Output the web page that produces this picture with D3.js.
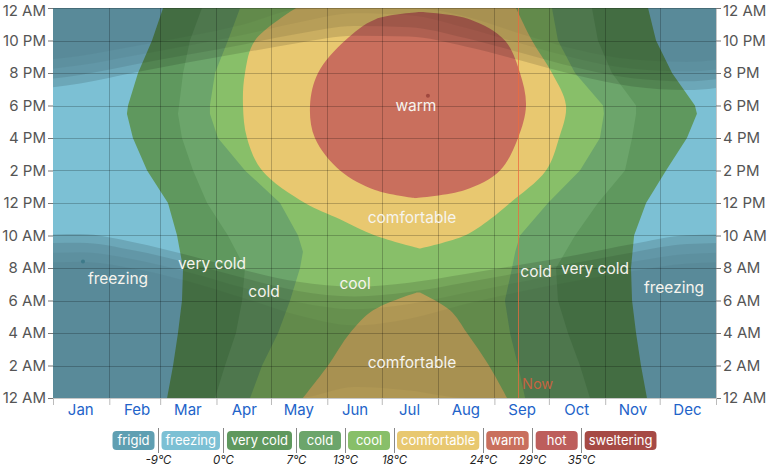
<!DOCTYPE html>
<html>
<head>
<meta charset="utf-8">
<script src="https://cdn.jsdelivr.net/npm/d3@7"></script>
<style>
  body { margin: 0; background: #fff; font-family: Inter, "Helvetica Neue", Arial, sans-serif; }
</style>
</head>
<body>
<svg id="chart" width="769" height="466"></svg>
<script>
const monthNames = ['Jan','Feb','Mar','Apr','May','Jun','Jul','Aug','Sep','Oct','Nov','Dec'];
const bandNames = ['frigid','freezing','very cold','cold','cool','comfortable','warm','hot','sweltering'];
const bandColors = ['#5f9fb2','#7cc0d4','#5f985e','#6ca56b','#88bf69','#e8c870','#c96f5d','#bd5e5c','#a64a45'];
const bandLimits = ['-9°C','0°C','7°C','13°C','18°C','24°C','29°C','35°C'];

// isotherm crossings: [hour, first day of year at/above, last day of year at/above]
const above0 = [[0,62.8,327.0],[2,66.1,323.7],[4,68.8,321.0],[6,71.0,318.8],[8,71.6,318.2],[10,68.3,319.9],
  [12,63.3,326.5],[14,51.8,337.5],[16,44.0,349.0],[17.5,40.7,354.5],[18,41.3,353.4],[20,46.8,340.8],[22,54.5,332.0],[24,60.6,327.6]];
const above7 = [[0,89.2,295.6],[2,94.7,290.1],[4,100.7,283.5],[6,104.1,278.0],[8,105.7,276.9],[10,96.3,287.4],
  [12,84.8,300.0],[14,77.1,314.9],[16,71.0,318.8],[17.5,68.8,321.0],[18,69.4,321.0],[20,71.6,307.7],[22,75.4,300.0],[24,82.0,296.7]];
const above13 = [[0,108.5,259.9],[2,115.1,256.0],[4,123.9,251.6],[6,130.5,248.8],[8,136.0,252.7],[9,137.6,254.5],[10,134.9,257.1],
  [12,125.0,272.5],[14,105.7,290.1],[16,90.8,301.1],[17.5,86.4,303.3],[18,86.4,302.8],[20,89.2,287.4],[22,96.3,278.0],[24,103.0,274.7]];
const above18Night = [[0,137.6,250.0],[2,151.4,240.0],[4,163.5,227.9],[5.4,176.2,218.6],[6.5,200.4,202.0]];
const above18Day = [[9.2,202.0,202.0],[10,177.3,226.8],[11,158.0,240.6],[12,138.7,251.6],[14,115.1,271.4],[16,106.8,278.6],
  [18,104.6,282.4],[20,105.7,274.7],[22,111.2,263.7],[24,133.8,254.9]];
const above24 = [[12.3,199.3,199.3],[12.8,177.3,226.8],[14,158.0,246.1],[16,144.2,256.0],[18,141.5,260.4],[20,145.9,257.1],
  [22,160.8,248.8],[23.3,177.3,229.6],[23.75,202.0,203.0]];

// sun and twilight times (hour of day), mid-month
const sunDays = [15,45,74,105,135,166,196,227,258,288,319,349];
const sunrise = [10.09,9.57,8.80,7.88,7.15,6.85,7.10,7.63,8.21,8.80,9.47,10.01];
const sunset = [19.35,20.03,20.64,21.26,21.85,22.29,22.24,21.63,20.75,19.86,19.17,18.95];
const civilDawn = [9.56,9.08,8.32,7.38,6.59,6.25,6.52,7.11,7.73,8.32,8.96,9.47];
const civilDusk = [19.88,20.52,21.12,21.76,22.41,22.89,22.82,22.15,21.23,20.34,19.68,19.49];
const nauticalDawn = [8.97,8.52,7.76,6.78,5.89,5.46,5.78,6.47,7.16,7.76,8.38,8.86];
const nauticalDusk = [20.47,21.08,21.68,22.36,23.11,23.68,23.56,22.79,21.80,20.90,20.26,20.10];
const astroDawn = [8.39,7.96,7.20,6.15,5.09,4.47,4.88,5.78,6.57,7.21,7.81,8.28];
const astroDusk = [21.05,21.64,22.24,22.99,23.91,24.67,24.46,23.48,22.39,21.45,20.83,20.68];

const nowDay = 256;

// region labels: [text, day, hour]
const regionLabels = [['warm',199.8,18.0],['comfortable',197.6,11.1],['comfortable',197.6,2.15],['cool',166.3,7.0],
  ['cold',116.2,6.5],['very cold',87.5,8.25],['freezing',35.8,7.3],['cold',265.9,7.75],['very cold',298.4,7.95],['freezing',341.9,6.75]];
const markers = [[16.5,8.4,'#3e7a8a'],[206.4,18.6,'#a0483f']];

const W = 769, H = 466;
const margin = {left: 53, right: 53, top: 8, bottom: 68};
const svg = d3.select('#chart');

const year0 = Date.UTC(2023, 0, 1);
const dayDate = (d) => new Date(year0 + d * 864e5);
const x = d3.scaleUtc()
  .domain([dayDate(0), dayDate(365)])
  .range([margin.left, W - margin.right]);
const y = d3.scaleLinear()
  .domain([0, 24])
  .range([H - margin.bottom, margin.top]);

svg.append('clipPath').attr('id', 'plotClip')
  .append('rect')
  .attr('x', margin.left).attr('y', margin.top)
  .attr('width', W - margin.left - margin.right)
  .attr('height', H - margin.top - margin.bottom);

const plot = svg.append('g').attr('clip-path', 'url(#plotClip)');

// base: freezing everywhere
plot.append('rect')
  .attr('x', margin.left).attr('y', margin.top)
  .attr('width', W - margin.left - margin.right)
  .attr('height', H - margin.top - margin.bottom)
  .attr('fill', bandColors[1]);

const bandArea = (curve) => d3.area()
  .y(d => y(d[0]))
  .x0(d => x(dayDate(d[1])))
  .x1(d => x(dayDate(d[2])))
  .curve(curve);

const layers = [
  [above0, bandColors[2], d3.curveLinear],
  [above7, bandColors[3], d3.curveLinear],
  [above13, bandColors[4], d3.curveLinear],
  [above18Night, bandColors[5], d3.curveCatmullRom],
  [above18Day, bandColors[5], d3.curveCatmullRom],
  [above24, bandColors[6], d3.curveCatmullRom]
];
layers.forEach(([rows, color, curve]) => {
  plot.append('path')
    .attr('d', bandArea(curve)(rows))
    .attr('fill', color);
});

// night and twilight shading
const idx = [11, 0, 1, 2, 3, 4, 5, 6, 7, 8, 9, 10, 11, 0];
const sunRows = idx.map((i, k) => ({
  day: sunDays[i] + (k === 0 ? -365 : k === 13 ? 365 : 0), i
}));
const shades = [
  [sunrise, sunset, 0.13],
  [civilDawn, civilDusk, 0.09],
  [nauticalDawn, nauticalDusk, 0.045],
  [astroDawn, astroDusk, 0.035]
];
shades.forEach(([dawn, dusk, op]) => {
  const evening = d3.area()
    .x(d => x(dayDate(d.day)))
    .y0(y(24))
    .y1(d => y(Math.min(24, dusk[d.i])))
    .curve(d3.curveMonotoneX);
  const morning = d3.area()
    .x(d => x(dayDate(d.day)))
    .y0(d => y(Math.max(0, dusk[d.i] - 24)))
    .y1(d => y(dawn[d.i]))
    .curve(d3.curveMonotoneX);
  plot.append('path').attr('d', evening(sunRows)).attr('fill', '#000').attr('opacity', op);
  plot.append('path').attr('d', morning(sunRows)).attr('fill', '#000').attr('opacity', op);
});

// grid
const monthStarts = d3.utcMonths(dayDate(0), dayDate(366));
const hourTicks = d3.range(0, 25, 2);
const grid = svg.append('g');
grid.selectAll('line.v')
  .data(monthStarts.slice(1))
  .join('line')
  .attr('x1', d => Math.round(x(d)) + 0.5).attr('x2', d => Math.round(x(d)) + 0.5)
  .attr('y1', margin.top).attr('y2', H - margin.bottom)
  .attr('stroke', '#000').attr('stroke-opacity', 0.22);
grid.selectAll('line.h')
  .data(hourTicks)
  .join('line')
  .attr('x1', margin.left).attr('x2', W - margin.right)
  .attr('y1', d => Math.round(y(d)) + 0.5).attr('y2', d => Math.round(y(d)) + 0.5)
  .attr('stroke', '#000').attr('stroke-opacity', 0.22);

// now line
svg.append('line')
  .attr('x1', Math.round(x(dayDate(nowDay))) + 0.5).attr('x2', Math.round(x(dayDate(nowDay))) + 0.5)
  .attr('y1', margin.top).attr('y2', H - margin.bottom)
  .attr('stroke', '#ec6a3e').attr('stroke-opacity', 0.75).attr('stroke-width', 1);
svg.append('text')
  .attr('x', x(dayDate(nowDay)) + 4).attr('y', y(0) - 9)
  .attr('fill', '#dd5f3e').attr('fill-opacity', 0.85).attr('font-size', 14.5)
  .text('Now');

// axes
const fmtHour = (h) => {
  const hh = h % 24;
  return (hh % 12 === 0 ? 12 : hh % 12) + (hh < 12 ? ' AM' : ' PM');
};
const styleAxis = (g, color) => {
  g.select('.domain').remove();
  g.selectAll('.tick line').attr('stroke', '#777');
  g.selectAll('.tick text').attr('fill', color).attr('font-size', 15)
    .attr('font-family', 'Inter, "Helvetica Neue", Arial, sans-serif');
};
const nudgeTop = (g) => g.selectAll('.tick text').filter(d => d === 24).attr('dy', '0.5em');
svg.append('g')
  .attr('transform', `translate(${margin.left},0)`)
  .call(d3.axisLeft(y).tickValues(hourTicks).tickFormat(fmtHour).tickSize(5).tickPadding(2))
  .call(g => styleAxis(g, '#555'))
  .call(nudgeTop);
svg.append('g')
  .attr('transform', `translate(${W - margin.right},0)`)
  .call(d3.axisRight(y).tickValues(hourTicks).tickFormat(fmtHour).tickSize(5).tickPadding(2))
  .call(g => styleAxis(g, '#555'))
  .call(nudgeTop);

// month ticks below the plot and month labels
svg.append('g')
  .attr('transform', `translate(0,${H - margin.bottom})`)
  .call(d3.axisBottom(x).tickValues(monthStarts).tickFormat('').tickSize(7))
  .call(g => { g.select('.domain').remove(); g.selectAll('.tick line').attr('stroke', '#bbb'); });
svg.append('g')
  .attr('transform', `translate(0,${H - margin.bottom})`)
  .call(d3.axisBottom(x)
    .tickValues(monthStarts.slice(0, 12).map(d => new Date(+d + 15 * 864e5)))
    .tickFormat((d, i) => monthNames[i]).tickSize(0).tickPadding(6))
  .call(g => styleAxis(g, '#2263c9'));

// region labels
svg.append('g').selectAll('text')
  .data(regionLabels)
  .join('text')
  .attr('x', d => x(dayDate(d[1])))
  .attr('y', d => y(d[2]) + 5)
  .attr('text-anchor', 'middle')
  .attr('fill', '#f6f4ee')
  .attr('font-size', 15.5)
  .text(d => d[0]);
svg.append('g').selectAll('circle')
  .data(markers)
  .join('circle')
  .attr('cx', d => x(dayDate(d[0])))
  .attr('cy', d => y(d[1]))
  .attr('r', 2)
  .attr('fill', d => d[2]);

// legend
const legend = svg.append('g');
const texts = bandNames.map(name => legend.append('text')
  .attr('fill', '#fff').attr('font-size', 13).attr('text-anchor', 'middle').text(name));
const widths = texts.map(t => Math.max(42, t.node().getComputedTextLength() + 8));
const gap = 7;
const total = d3.sum(widths) + gap * (widths.length - 1);
let lx = (W - total) / 2;
const boxY = 431, boxH = 19;
widths.forEach((w, i) => {
  legend.insert('rect', 'text')
    .attr('x', lx).attr('y', boxY).attr('width', w).attr('height', boxH)
    .attr('rx', 4).attr('fill', bandColors[i]);
  texts[i].attr('x', lx + w / 2).attr('y', boxY + 14);
  if (i < widths.length - 1) {
    const sx = Math.round(lx + w + gap / 2) + 0.5;
    legend.append('line')
      .attr('x1', sx).attr('x2', sx).attr('y1', boxY - 3).attr('y2', boxY + boxH + 3)
      .attr('stroke', '#888');
    legend.append('text')
      .attr('x', sx).attr('y', 464)
      .attr('text-anchor', 'middle').attr('font-size', 11.5).attr('font-style', 'italic')
      .attr('fill', '#222')
      .text(bandLimits[i]);
  }
  lx += w + gap;
});
</script>
</body>
</html>
